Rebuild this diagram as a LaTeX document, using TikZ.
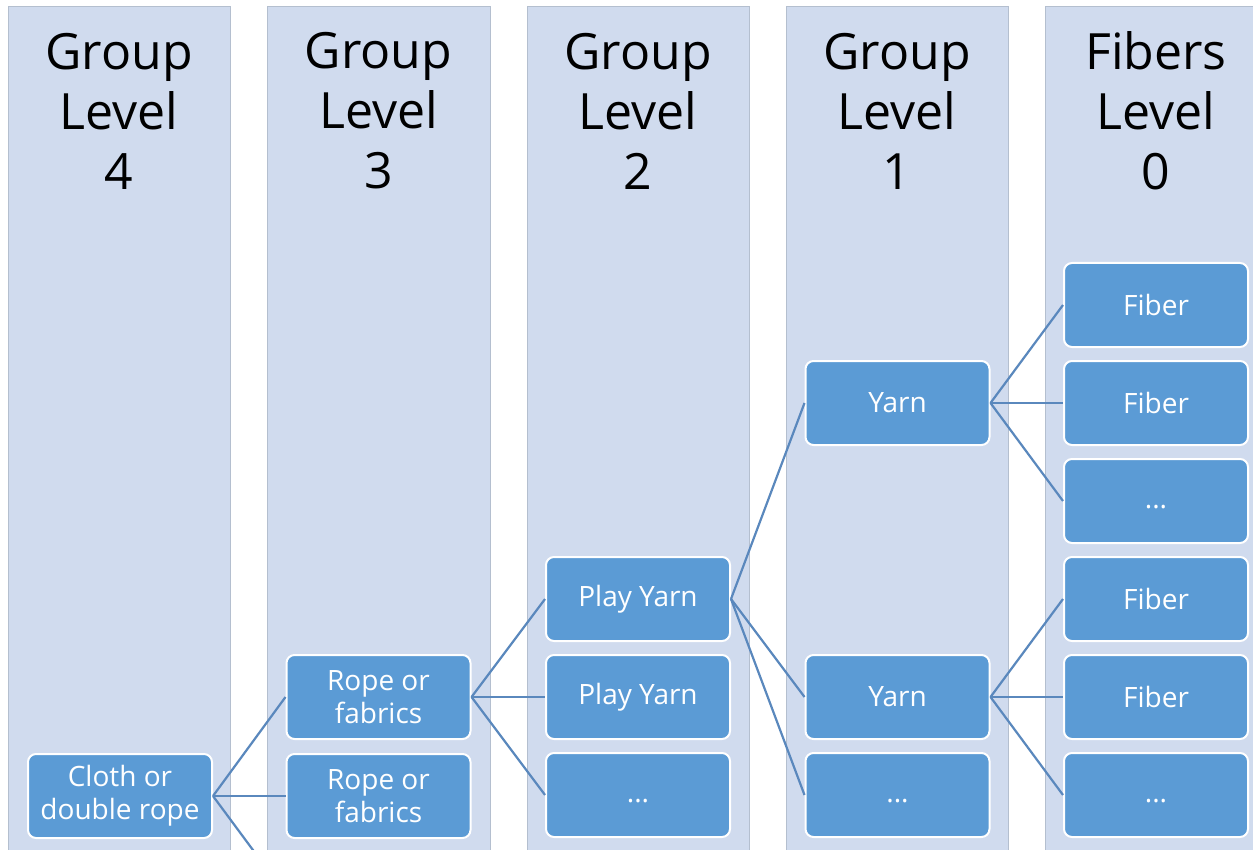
\documentclass[tikz,border=0pt]{standalone}
\usepackage{fontspec}
\setmainfont{Open Sans}
\definecolor{colbg}{HTML}{D0DBEE}
\definecolor{coledge}{HTML}{B4BFCF}
\definecolor{boxfill}{HTML}{5B9BD5}
\definecolor{linkc}{HTML}{5A88BD}
\tikzset{
  colbox/.style={fill=colbg, draw=coledge, line width=0.8pt},
  hdr/.style={font=\fontsize{50}{60}\selectfont, align=center, text=black},
  item/.style={rectangle, rounded corners=8pt, fill=boxfill, draw=white, line width=2pt,
    minimum width=184pt, minimum height=84pt, inner sep=0pt, text=white,
    font=\fontsize{28}{33}\selectfont, align=center},
  link/.style={draw=linkc, line width=2.2pt}
}
\newcommand{\dotsdown}{\smash{\raisebox{-7pt}{...}}}
\begin{document}
\begin{tikzpicture}[x=1pt,y=-1pt]
\useasboundingbox (0,0) rectangle (1253,850);
\clip (0,0) rectangle (1253,850);
\fill[white] (0,0) rectangle (1253,850);
% columns
\draw[colbox] (8,6) rectangle (230,860);
\draw[colbox] (267,6) rectangle (490,860);
\draw[colbox] (527,6) rectangle (749,860);
\draw[colbox] (786,6) rectangle (1008,860);
\draw[colbox] (1045,6) rectangle (1270,860);
% headers
\node[hdr] (h4) at (119,111) {Group\\Level\\4};
\node[hdr] (h3) at (378.5,111) {Group\\Level\\3};
\node[hdr] (h2) at (638,111) {Group\\Level\\2};
\node[hdr] (h1) at (897,111) {Group\\Level\\1};
\node[hdr] (h0) at (1156,111) {Fibers\\Level\\0};
% level 4
\node[item] (cloth) at (120,796) {Cloth or\\double rope};
% level 3
\node[item] (rope1) at (378.5,697) {Rope or\\fabrics};
\node[item] (rope2) at (378.5,796) {Rope or\\fabrics};
\node[item] (rope3) at (378.5,894) {};
% level 2
\node[item] (py1) at (638,599) {Play Yarn};
\node[item] (py2) at (638,697) {Play Yarn};
\node[item] (py3) at (638,795) {\dotsdown};
% level 1
\node[item] (y1) at (897.5,403) {Yarn};
\node[item] (y2) at (897.5,697) {Yarn};
\node[item] (y3) at (897.5,795) {\dotsdown};
% level 0
\node[item] (f1) at (1156,305) {Fiber};
\node[item] (f2) at (1156,403) {Fiber};
\node[item] (f3) at (1156,501) {\dotsdown};
\node[item] (f4) at (1156,599) {Fiber};
\node[item] (f5) at (1156,697) {Fiber};
\node[item] (f6) at (1156,795) {\dotsdown};
% links
\foreach \a/\b in {cloth/rope1, cloth/rope2, cloth/rope3,
  rope1/py1, rope1/py2, rope1/py3,
  py1/y1, py1/y2, py1/y3,
  y1/f1, y1/f2, y1/f3,
  y2/f4, y2/f5, y2/f6}
  \path[link] (\a.east) -- (\b.west);
\end{tikzpicture}
\end{document}
